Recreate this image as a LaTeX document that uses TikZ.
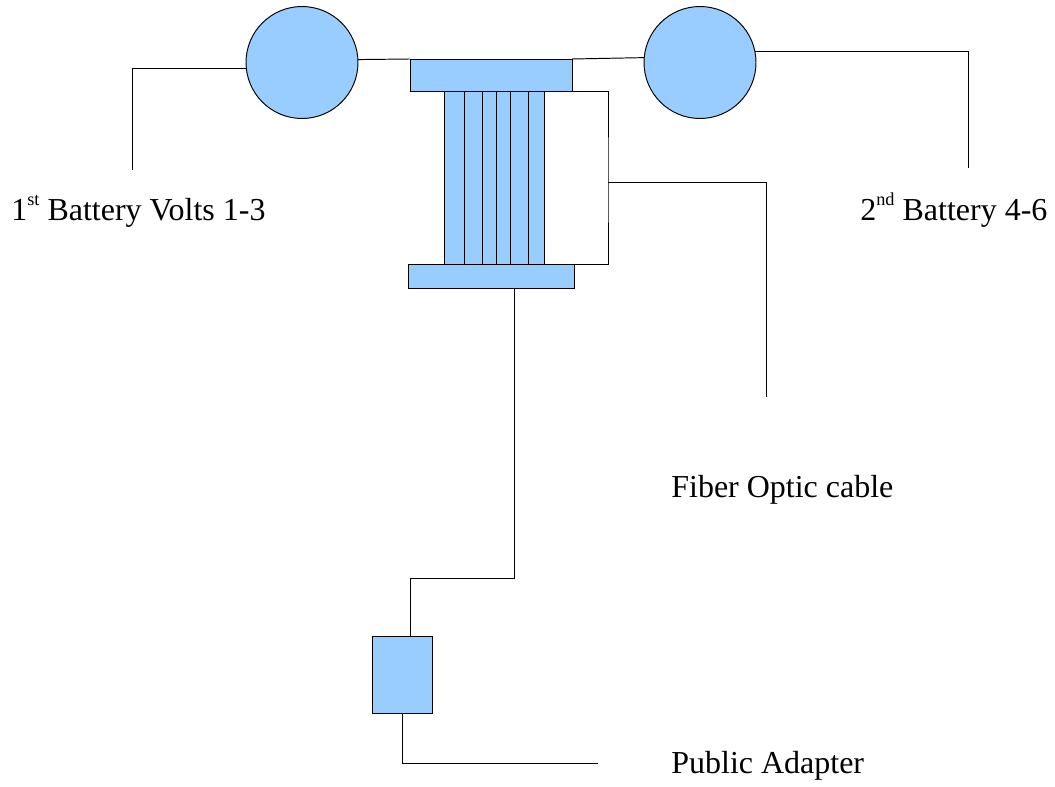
\documentclass[tikz,border=0pt]{standalone}
\usepackage{fontspec}
\setmainfont{Liberation Serif}
\definecolor{partblue}{HTML}{99CCFF}
\newcommand{\supr}[1]{\raisebox{0.5em}{\fontsize{10.4pt}{12pt}\selectfont #1}}
\tikzset{
  part/.style={draw=black,fill=partblue,line width=0.55pt,inner sep=0pt,outer sep=0pt},
  bar/.style={part,rectangle},
  batt/.style={part,circle,minimum size=2.24cm},
  strip/.style={part,rectangle,minimum height=3.46cm},
  wire/.style={black,line width=0.55pt},
  lab/.style={anchor=base west,inner sep=0pt,font=\fontsize{18.2pt}{22pt}\selectfont}
}
\begin{document}
\begin{tikzpicture}
   \useasboundingbox (0,0) rectangle (21.1,15.72);
   % parts
   \node[batt] (battone) at (6.04,14.47) {};
   \node[batt] (batttwo) at (14,14.47) {};
   \node[bar,minimum width=3.24cm,minimum height=0.64cm] (topbar) at (9.82,14.22) {};
   \node[bar,minimum width=3.32cm,minimum height=0.48cm] (botbar) at (9.82,10.2) {};
   \node[bar,minimum width=1.2cm,minimum height=1.54cm] (adapter) at (8.04,2.23) {};
   \foreach \n/\xa/\wid in {1/9.08/0.4,2/9.465/0.37,3/9.79/0.28,4/10.07/0.28,5/10.39/0.36,6/10.725/0.31}
    \node[strip,minimum width=\wid cm] (strip\n) at (\xa,12.17) {};
   % free ends and corners
   \coordinate (leftend) at (2.64,12.32);
   \coordinate (rightend) at (19.36,12.36);
   \coordinate (bus) at (12.16,12.08);
   \coordinate (fiberend) at (15.32,7.78);
   \coordinate (turn) at (10.28,4.16);
   \coordinate (inlet) at (8.2,3);
   \coordinate (pubend) at (11.96,0.46);
   % wires
   \draw[wire] (battone.186) -| (leftend);
   \draw[wire] (battone.3) -- (topbar.north west);
   \draw[wire] (topbar.north east) -- (batttwo.175);
   \draw[wire] (batttwo.11) -| (rightend);
   \draw[wire] (topbar.south east) -| (bus) |- (botbar.north east);
   \draw[wire] (bus) -| (fiberend);
   \draw[wire] (turn |- botbar.south) -- (turn) -| (inlet);
   \draw[wire] (adapter.south) |- (pubend);
   % labels
   \node[lab] (labone) at (0.22,11.3) {1\supr{st} Battery Volts 1-3};
   \node[lab] (labtwo) at (17.2,11.3) {2\supr{nd} Battery 4-6};
   \node[lab] (labfiber) at (13.42,5.78) {Fiber Optic cable};
   \node[lab] (labpub) at (13.42,0.25) {Public Adapter};
\end{tikzpicture}
\end{document}
